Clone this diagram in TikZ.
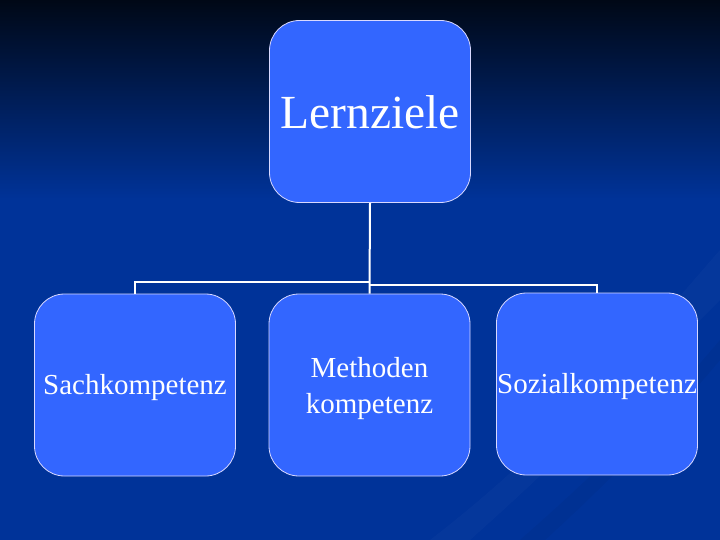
\documentclass[tikz,border=0pt]{standalone}
\usepackage{fontspec}
\setmainfont{Liberation Serif}
\newcommand{\lowerby}[2]{\raisebox{-#1}[\height][\depth]{#2}}
\begin{document}
\begin{tikzpicture}[x=1pt,y=-1pt,
  box/.style={draw=white!85!blue, line width=0.8pt, fill=boxblue, rounded corners=30pt,
    minimum width=201pt, minimum height=182pt, inner sep=0pt, text=white, align=center},
  conn/.style={draw=white, line width=2pt}]
\definecolor{boxblue}{HTML}{3366FF}
\definecolor{bgblue}{HTML}{003399}
\definecolor{bgtop}{HTML}{000816}
\useasboundingbox (0,0) rectangle (720,540);
\fill[bgblue] (0,0) rectangle (720,540);
\shade[top color=bgtop, bottom color=bgblue] (0,0) rectangle (720,200);
% faint streaks
\fill[white, opacity=0.02] (430,540) .. controls (560,440) and (650,330) .. (720,250) -- (720,300) .. controls (650,370) and (560,460) .. (470,540) -- cycle;
\fill[bgblue!70!black, opacity=0.12] (520,540) .. controls (600,470) and (670,400) .. (720,340) -- (720,360) .. controls (670,420) and (600,490) .. (545,540) -- cycle;

\node[box, font=\fontsize{47.5}{50}\selectfont] (top) at (370,111.5) {\lowerby{1pt}{Lernziele}};
\node[box, font=\fontsize{29}{37}\selectfont] (sach) at (135,385) {\lowerby{3pt}{Sachkompetenz}};
\node[box, font=\fontsize{29}{37}\selectfont] (meth) at (369.5,385) {\lowerby{3pt}{\begin{tabular}{@{}c@{}}Methoden\\[-1pt]kompetenz\end{tabular}}};
\node[box, font=\fontsize{29}{37}\selectfont] (soz) at (597,384) {\lowerby{3pt}{Sozialkompetenz}};

\coordinate (jl) at (370,282);
\coordinate (jr) at (370,285);
\draw[conn] (top.south) -- (meth.north);
\draw[conn] (jl) -| (sach.north);
\draw[conn] (jr) -| (soz.north);
\end{tikzpicture}
\end{document}
